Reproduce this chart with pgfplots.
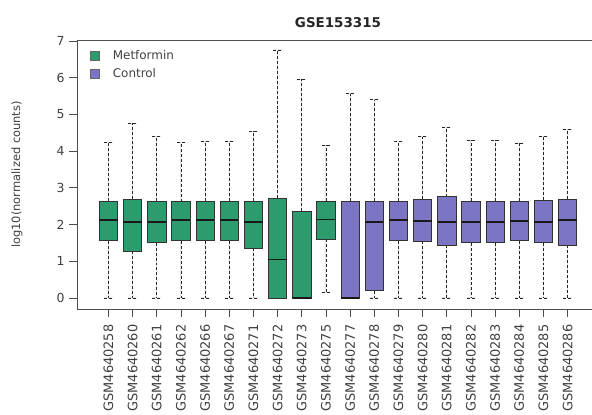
\documentclass[border=0pt]{standalone}
\usepackage{fontspec}
\setmainfont{DejaVu Sans}
\usepackage{pgfplots}
\usepgfplotslibrary{statistics}
\pgfplotsset{compat=1.18}
\definecolor{metf}{HTML}{2E9B6E}
\definecolor{ctrl}{HTML}{7C75C4}
\newcommand{\bx}[7]{\addplot[boxplot prepared={draw position=#1, lower whisker=#2, lower quartile=#3, median=#4, upper quartile=#5, upper whisker=#6}, fill=#7, draw=black!80, line width=0.8bp] coordinates {};}
\begin{document}
\begin{tikzpicture}
\begin{axis}[
  name=ax, anchor=south west,
  scale only axis, width=522bp, height=269bp,
  xmin=-0.3, xmax=21.3, ymin=-0.30, ymax=7.03,
  xtick={1,...,20},
  xticklabels={GSM4640258,GSM4640260,GSM4640261,GSM4640262,GSM4640266,GSM4640267,GSM4640271,GSM4640272,GSM4640273,GSM4640275,GSM4640277,GSM4640278,GSM4640279,GSM4640280,GSM4640281,GSM4640282,GSM4640283,GSM4640284,GSM4640285,GSM4640286},
  ytick={0,...,7},
  tick align=outside, major tick length=8bp,
  tick style={black!70, line width=0.8bp},
  axis line style={black!70, line width=0.9bp},
  xtick pos=bottom, ytick pos=left,
  x tick label style={rotate=90, anchor=east, font=\fontsize{13}{13}\selectfont, text=black!75, xshift=-4bp},
  y tick label style={font=\fontsize{12.5}{12}\selectfont, text=black!75, xshift=-1bp},
  /pgf/number format/assume math mode=true,
  ylabel={log10(normalized counts)},
  ylabel style={at={(axis description cs:-0.115,0.5)}, anchor=center, font=\fontsize{11.5}{12}\selectfont, text=black!75},
  title={GSE153315},
  title style={at={(0.5,1)}, anchor=base, yshift=7bp, font=\fontsize{13.5}{14}\bfseries\selectfont, text=black!85},
  boxplot/draw direction=y,
  boxplot/box extend=0.76,
  boxplot/whisker extend=0.36,
  boxplot/every whisker/.style={densely dashed, black!85, line width=0.8bp},
  boxplot/every median/.style={line width=1.8bp, black!90},
  legend style={at={(axis description cs:0.012,0.978)}, anchor=north west, draw=none, fill=none, font=\fontsize{12}{12}\selectfont, text=black!75, row sep=4bp},
  legend cell align=left,
  legend image code/.code={\draw[#1] (4bp,-4.5bp) rectangle (13bp,4.5bp); \path (0bp,0bp) (24bp,0bp);},
]
\addlegendimage{fill=metf, draw=black!60}
\addlegendentry{Metformin}
\addlegendimage{fill=ctrl, draw=black!60}
\addlegendentry{Control}
\bx{1}{0}{1.56}{2.12}{2.64}{4.23}{metf}
\bx{2}{0}{1.28}{2.08}{2.69}{4.76}{metf}
\bx{3}{0}{1.51}{2.08}{2.64}{4.40}{metf}
\bx{4}{0}{1.56}{2.12}{2.62}{4.23}{metf}
\bx{5}{0}{1.56}{2.12}{2.64}{4.26}{metf}
\bx{6}{0}{1.56}{2.12}{2.64}{4.26}{metf}
\bx{7}{0}{1.35}{2.08}{2.64}{4.55}{metf}
\bx{8}{0}{0}{1.05}{2.72}{6.76}{metf}
\bx{9}{0}{0}{0}{2.37}{5.96}{metf}
\bx{10}{0.16}{1.60}{2.14}{2.64}{4.16}{metf}
\bx{11}{0}{0}{0}{2.64}{5.58}{ctrl}
\bx{12}{0}{0.20}{2.08}{2.64}{5.40}{ctrl}
\bx{13}{0}{1.56}{2.12}{2.64}{4.26}{ctrl}
\bx{14}{0}{1.54}{2.10}{2.69}{4.40}{ctrl}
\bx{15}{0}{1.44}{2.08}{2.76}{4.64}{ctrl}
\bx{16}{0}{1.51}{2.08}{2.64}{4.30}{ctrl}
\bx{17}{0}{1.51}{2.08}{2.64}{4.30}{ctrl}
\bx{18}{0}{1.56}{2.10}{2.64}{4.21}{ctrl}
\bx{19}{0}{1.51}{2.08}{2.67}{4.40}{ctrl}
\bx{20}{0}{1.44}{2.12}{2.70}{4.60}{ctrl}
\end{axis}
\pgfresetboundingbox
\clip ([shift={(-77bp,-106bp)}]ax.south west) rectangle ([shift={(515bp,309bp)}]ax.south west);
\end{tikzpicture}
\end{document}
